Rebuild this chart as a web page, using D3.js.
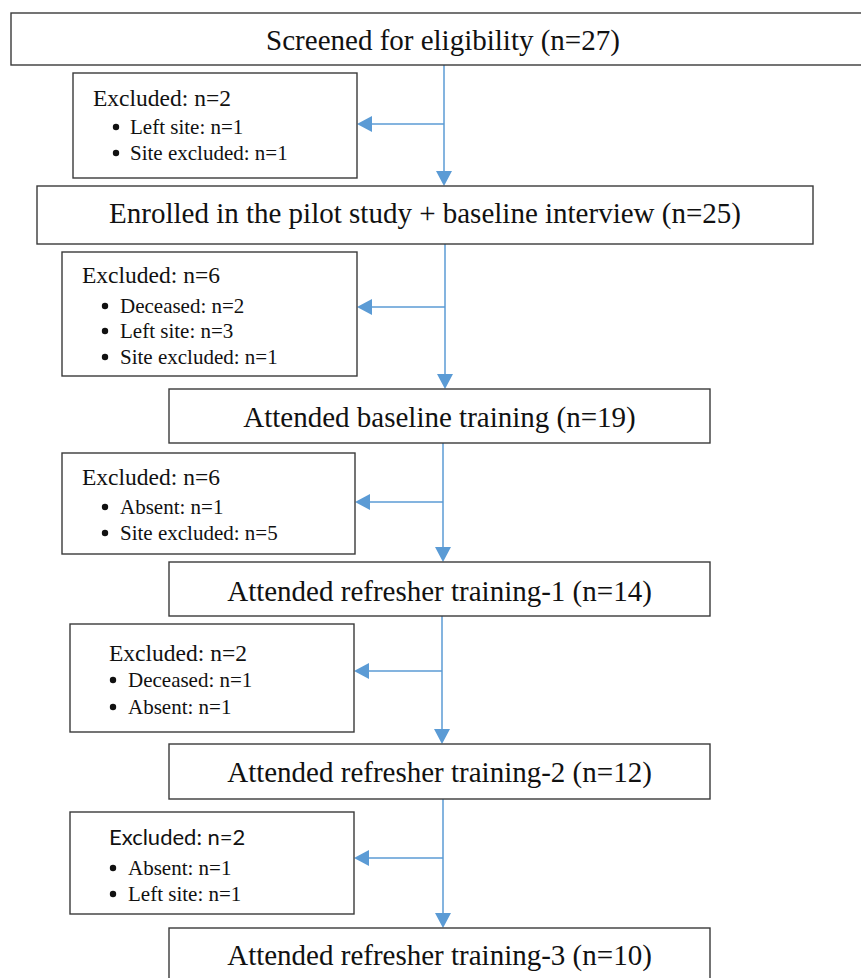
<!DOCTYPE html>
<html>
<head>
<meta charset="utf-8">
<script src="https://cdn.jsdelivr.net/npm/d3@7"></script>
<style>
  body { margin: 0; background: #fff; }
  svg { display: block; }
</style>
</head>
<body>
<div id="chart-area"></div>
<script>
// flow data
var stages = ["Screened for eligibility",
    "Enrolled in the pilot study + baseline interview",
    "Attended baseline training",
    "Attended refresher training-1",
    "Attended refresher training-2",
    "Attended refresher training-3"];
var stageN = [27, 25, 19, 14, 12, 10];

var excludedN = [2, 6, 6, 2, 2];
var excludedReasons = [
    ["Left site", "Site excluded"],
    ["Deceased", "Left site", "Site excluded"],
    ["Absent", "Site excluded"],
    ["Deceased", "Absent"],
    ["Absent", "Left site"]];
var excludedReasonN = [[1, 1], [2, 3, 1], [1, 5], [1, 1], [1, 1]];

// layout (pixels)
var width = 861, height = 978;
var stageBox = [
    { x: 11, y: 13, w: 864, h: 52, base: 50 },
    { x: 37, y: 186, w: 776, h: 58, base: 223 },
    { x: 169, y: 389, w: 541, h: 54, base: 427 },
    { x: 169, y: 562, w: 541, h: 54, base: 601 },
    { x: 169, y: 744, w: 541, h: 55, base: 782 },
    { x: 169, y: 928, w: 541, h: 60, base: 965 }];
var exclBox = [
    { x: 73, y: 73, w: 284, h: 105, tx: 93, base: 106, bx: 116, lx: 130, lines: [134, 160], arrowY: 124 },
    { x: 62, y: 252, w: 295, h: 124, tx: 82, base: 283, bx: 105, lx: 120, lines: [313, 338, 364], arrowY: 307 },
    { x: 62, y: 453, w: 293, h: 101, tx: 82, base: 485, bx: 105, lx: 120, lines: [514, 540], arrowY: 502 },
    { x: 70, y: 624, w: 284, h: 108, tx: 109, base: 661, bx: 113, lx: 128, lines: [687, 714], arrowY: 671 },
    { x: 70, y: 812, w: 284, h: 102, tx: 109, base: 845, bx: 113, lx: 128, lines: [875, 901], arrowY: 858 }];
var spineX = [444, 445, 443, 442, 443];

var blue = "#5B9BD5";
var serif = "'Liberation Serif', 'Times New Roman', serif";

var svg = d3.select("#chart-area")
    .append("svg")
        .attr("width", width)
        .attr("height", height);

// connectors (drawn first so boxes sit on top)
var links = svg.append("g").attr("class", "links");

d3.range(excludedN.length).forEach(function(i){
    var x = spineX[i];
    var y0 = stageBox[i].y + stageBox[i].h;
    var y1 = stageBox[i + 1].y;
    links.append("line")
        .attr("x1", x).attr("x2", x)
        .attr("y1", y0).attr("y2", y1 - 14)
        .attr("stroke", blue).attr("stroke-width", 1.5);
    links.append("path")
        .attr("d", "M" + (x - 8) + "," + (y1 - 15) + "L" + (x + 8) + "," + (y1 - 15) + "L" + x + "," + y1 + "Z")
        .attr("fill", blue);

    var e = exclBox[i];
    var ex = e.x + e.w;
    links.append("line")
        .attr("x1", x).attr("x2", ex + 14)
        .attr("y1", e.arrowY).attr("y2", e.arrowY)
        .attr("stroke", blue).attr("stroke-width", 1.5);
    links.append("path")
        .attr("d", "M" + (ex + 15) + "," + (e.arrowY - 8) + "L" + (ex + 15) + "," + (e.arrowY + 8) + "L" + ex + "," + e.arrowY + "Z")
        .attr("fill", blue);
});

// main stage boxes
var stageG = svg.selectAll("g.stage")
    .data(stages)
    .enter().append("g")
        .attr("class", "stage");

stageG.append("rect")
    .attr("x", function(d, i){ return stageBox[i].x; })
    .attr("y", function(d, i){ return stageBox[i].y; })
    .attr("width", function(d, i){ return stageBox[i].w; })
    .attr("height", function(d, i){ return stageBox[i].h; })
    .attr("fill", "#fff")
    .attr("stroke", "#3a3a3a")
    .attr("stroke-width", 1.4);

stageG.append("text")
    .attr("x", function(d, i){ return i == 0 ? 443 : stageBox[i].x + stageBox[i].w / 2; })
    .attr("y", function(d, i){ return stageBox[i].base; })
    .attr("text-anchor", "middle")
    .attr("font-family", serif)
    .attr("font-size", "29px")
    .attr("fill", "#111")
    .text(function(d, i){ return d + " (n=" + stageN[i] + ")"; });

// exclusion boxes
var exclG = svg.selectAll("g.excl")
    .data(excludedN)
    .enter().append("g")
        .attr("class", "excl");

exclG.append("rect")
    .attr("x", function(d, i){ return exclBox[i].x; })
    .attr("y", function(d, i){ return exclBox[i].y; })
    .attr("width", function(d, i){ return exclBox[i].w; })
    .attr("height", function(d, i){ return exclBox[i].h; })
    .attr("fill", "#fff")
    .attr("stroke", "#3a3a3a")
    .attr("stroke-width", 1.4);

exclG.append("text")
    .attr("x", function(d, i){ return exclBox[i].tx; })
    .attr("y", function(d, i){ return exclBox[i].base; })
    .attr("font-family", function(d, i){ return i == 4 ? "Lato, 'Liberation Sans', sans-serif" : serif; })
    .attr("font-size", function(d, i){ return i == 4 ? "22px" : "23.5px"; })
    .attr("fill", "#111")
    .text(function(d){ return "Excluded: n=" + d; });

exclG.each(function(d, i){
    var g = d3.select(this);
    var e = exclBox[i];
    var items = excludedReasons[i].map(function(r, j){
        return { label: r, n: excludedReasonN[i][j], y: e.lines[j] };
    });
    g.selectAll("circle")
        .data(items)
        .enter().append("circle")
            .attr("cx", e.bx)
            .attr("cy", function(t){ return t.y - 7; })
            .attr("r", 3.2)
            .attr("fill", "#111");
    g.selectAll("text.item")
        .data(items)
        .enter().append("text")
            .attr("class", "item")
            .attr("x", e.lx)
            .attr("y", function(t){ return t.y; })
            .attr("font-family", serif)
            .attr("font-size", "21px")
            .attr("fill", "#111")
            .text(function(t){ return t.label + ": n=" + t.n; });
});
</script>
</body>
</html>
